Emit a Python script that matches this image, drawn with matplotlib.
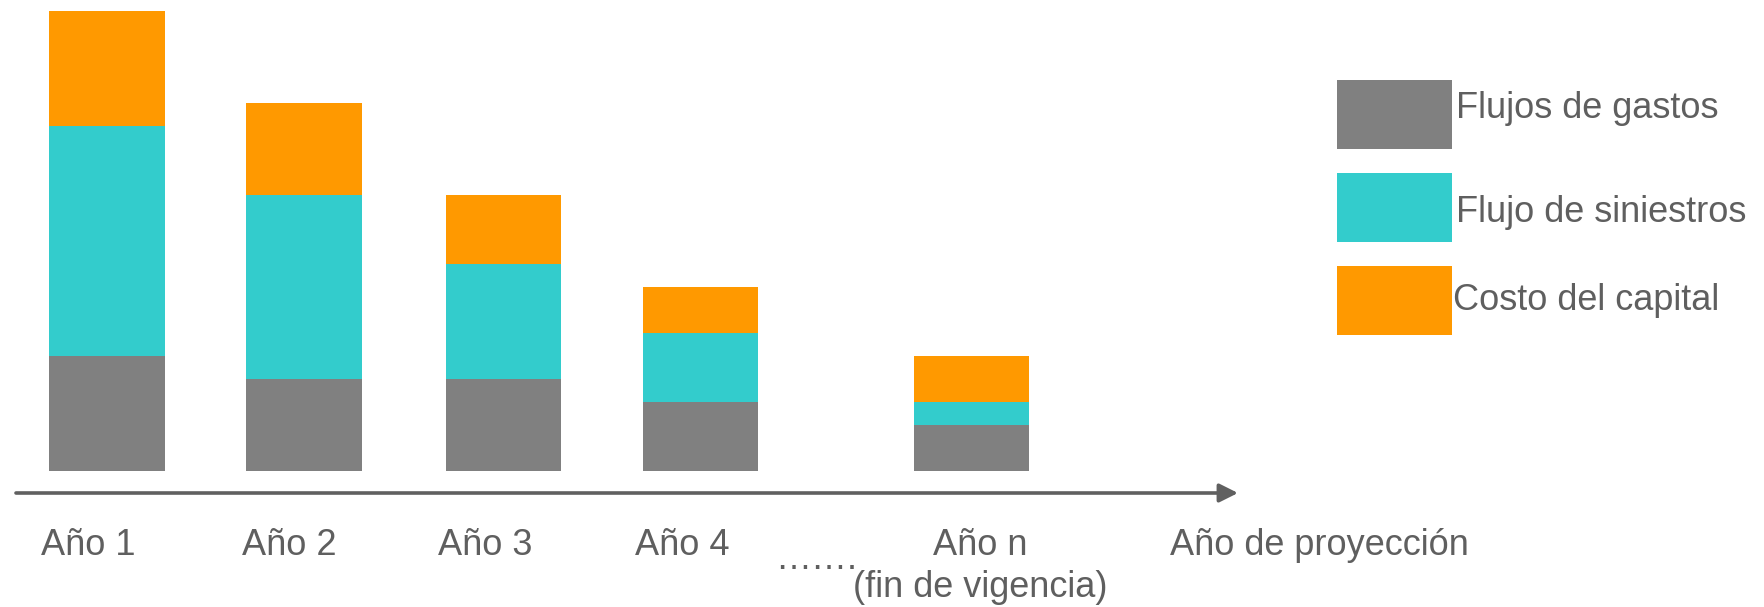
import matplotlib
matplotlib.use("Agg")
import matplotlib.pyplot as plt
from matplotlib.patches import Rectangle

# Data
categories = ["Año 1", "Año 2", "Año 3", "Año 4", "Año n\n(fin de vigencia)"]
series_names = ["Flujos de gastos", "Flujo de siniestros", "Costo del capital"]
gastos = [5, 4, 4, 3, 2]
siniestros = [10, 8, 5, 3, 1]
capital = [5, 4, 3, 2, 2]
axis_label = "Año de proyección"
gap_text = "……."

colors = ["#808080", "#33CCCC", "#FF9900"]
text_color = "#5f5f5f"

plt.rcParams["font.family"] = ["Liberation Sans", "DejaVu Sans"]
FS = 26

W, H = 1765, 607
fig = plt.figure(figsize=(W / 100, H / 100), dpi=100)
ax = fig.add_axes([0, 0, 1, 1])

# data scale: one unit = 22.96 px, baseline at 470.5 px from top; bar pitch 197 px
unit = 22.96
base_px = 470.5
pitch = 197.0
x0_px = 107.0
ax.set_ylim((base_px - H) / unit, base_px / unit)
ax.set_xlim(-x0_px / pitch, (W - x0_px) / pitch)
ax.axis("off")

xpos = [0, 1, 2.012, 3.012, 4.39]
width = 0.584

bottom = [0] * len(xpos)
for vals, col in zip([gastos, siniestros, capital], colors):
    ax.bar(xpos, vals, width=width, bottom=bottom, color=col, linewidth=0)
    bottom = [b + v for b, v in zip(bottom, vals)]

# horizontal axis with arrow
y_axis = -0.98
ax.annotate("", xy=(5.741, y_axis), xytext=(-0.462, y_axis),
            arrowprops=dict(arrowstyle="-|>", color="#606060", lw=2.6,
                            mutation_scale=28, shrinkA=0, shrinkB=0))

# category labels
label_x = [-0.094, 0.925, 1.92, 2.92, 4.435]
y_lab = -3.68
for lx, lab in zip(label_x, categories):
    lines = lab.split("\n")
    ax.text(lx, y_lab, lines[0], ha="center", va="baseline",
            fontsize=FS, color=text_color)
    if len(lines) > 1:
        ax.text(lx, -5.51, lines[1], ha="center", va="baseline",
                fontsize=FS, color=text_color)

ax.text((775 - x0_px) / pitch, -4.29, gap_text, ha="left", va="baseline",
        fontsize=FS, color=text_color)
ax.text((1170 - x0_px) / pitch, y_lab, axis_label, ha="left", va="baseline",
        fontsize=FS, color=text_color)

# legend drawn in figure pixel space
lax = fig.add_axes([0, 0, 1, 1])
lax.set_xlim(0, W)
lax.set_ylim(H, 0)
lax.axis("off")
lax.patch.set_alpha(0)
legend_tops = [80, 173, 265.5]
legend_text_base = [118.5, 221.5, 310]
legend_text_x = [1456, 1456, 1453]
for top, tb, tx, name, col in zip(legend_tops, legend_text_base, legend_text_x,
                                  series_names, colors):
    lax.add_patch(Rectangle((1337, top), 115, 69, color=col, linewidth=0))
    lax.text(tx, tb, name, ha="left", va="baseline", fontsize=FS, color=text_color)

fig.savefig("out.png", dpi=100)
